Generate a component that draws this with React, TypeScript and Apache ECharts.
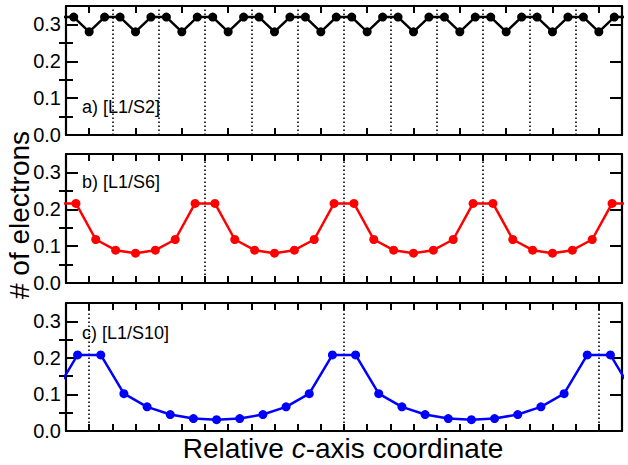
import React, { useEffect, useRef } from "react";
import * as echarts from "echarts";

// ---- data ----
const electronsA = [
  0.32, 0.28, 0.32, 0.32, 0.28, 0.32, 0.32, 0.28, 0.32, 0.32, 0.28, 0.32,
  0.32, 0.28, 0.32, 0.32, 0.28, 0.32, 0.32, 0.28, 0.32, 0.32, 0.28, 0.32,
  0.32, 0.28, 0.32, 0.32, 0.28, 0.32, 0.32, 0.28, 0.32, 0.32, 0.28, 0.32,
];
const electronsB = [
  0.216, 0.118, 0.089, 0.081, 0.089, 0.118, 0.216,
  0.216, 0.118, 0.089, 0.081, 0.089, 0.118, 0.216,
  0.216, 0.118, 0.089, 0.081, 0.089, 0.118, 0.216,
  0.216, 0.118, 0.089, 0.081, 0.089, 0.118, 0.216,
];
const electronsC = [
  0.208, 0.208, 0.102, 0.066, 0.045, 0.034, 0.031, 0.034, 0.045, 0.066, 0.102,
  0.208, 0.208, 0.102, 0.066, 0.045, 0.034, 0.031, 0.034, 0.045, 0.066, 0.102,
  0.208, 0.208,
];
// values just outside the left / right edge (periodic continuation)
const edgeA = [0.32, 0.32];
const edgeB = [0.216, 0.216];
const edgeC = [0.102, 0.102];

const dividersA = [3, 6, 9, 12, 15, 18, 21, 24, 27, 30, 33];
const dividersB = [7, 14, 21];
const dividersC = [1, 12, 23];

const panelLabels = ["a) [L1/S2]", "b) [L1/S6]", "c) [L1/S10]"];
const yMajorTicks = [0, 0.1, 0.2, 0.3];
const yMinorTicks = [0.05, 0.15, 0.25];
const yAxisTitle = "# of electrons";

const FONT = "'Liberation Sans', Arial, Helvetica, sans-serif";

export default function App() {
  const ref = useRef<HTMLDivElement>(null);

  useEffect(() => {
    document.body.style.margin = "0";
    if (!ref.current) return;
    const chart = echarts.init(ref.current, null, { renderer: "svg" });

    const panels = [
      { values: electronsA, edge: edgeA, dividers: dividersA, color: "#000000", tickStep: 3, tickOffset: 1.5, top: 6, height: 129, labelY: 107 },
      { values: electronsB, edge: edgeB, dividers: dividersB, color: "#ff0000", tickStep: 28 / 24, tickOffset: 28 / 24, top: 154, height: 129, labelY: 182 },
      { values: electronsC, edge: edgeC, dividers: dividersC, color: "#0000ff", tickStep: 1, tickOffset: 1, top: 303, height: 128, labelY: 333 },
    ];

    const grid: any[] = [];
    const xAxis: any[] = [];
    const yAxis: any[] = [];
    const series: any[] = [];
    const graphic: any[] = [];

    const frameLine = { show: true, onZero: false, lineStyle: { color: "#000", width: 2.2 } };

    panels.forEach((p, g) => {
      const n = p.values.length;
      grid.push({ left: 66, right: 6, top: p.top, height: p.height });

      const xt: number[] = [];
      for (let t = p.tickOffset; t < n - 1e-6; t += p.tickStep) xt.push(t);

      ["bottom", "top"].forEach((pos) => {
        xAxis.push({
          type: "value",
          gridIndex: g,
          position: pos,
          min: 0,
          max: n,
          axisLine: frameLine,
          axisTick: { show: true, inside: true, length: 7, customValues: xt, lineStyle: { color: "#000", width: 2 } },
          axisLabel: { show: false },
          splitLine: { show: false },
        });
      });

      ["left", "right"].forEach((pos) => {
        yAxis.push({
          type: "value",
          gridIndex: g,
          position: pos,
          min: 0,
          max: 0.35,
          axisLine: frameLine,
          axisTick: { show: true, inside: true, length: 12, customValues: yMajorTicks, lineStyle: { color: "#000", width: 2 } },
          axisLabel: {
            show: pos === "left",
            customValues: yMajorTicks,
            formatter: (v: number) => v.toFixed(1),
            color: "#000",
            fontSize: 20,
            fontFamily: FONT,
            margin: 5,
          },
          splitLine: { show: false },
        });
        yAxis.push({
          type: "value",
          gridIndex: g,
          position: pos,
          min: 0,
          max: 0.35,
          axisLine: { show: false },
          axisTick: { show: true, inside: true, length: 7, customValues: yMinorTicks, lineStyle: { color: "#000", width: 2 } },
          axisLabel: { show: false },
          splitLine: { show: false },
        });
      });

      const data: any[] = [];
      data.push({ value: [-0.5, p.edge[0]], symbol: "none" });
      p.values.forEach((v, i) => data.push([i + 0.5, v]));
      data.push({ value: [n + 0.5, p.edge[1]], symbol: "none" });

      series.push({
        type: "line",
        xAxisIndex: 2 * g,
        yAxisIndex: 4 * g,
        data,
        clip: true,
        symbol: "circle",
        symbolSize: 9,
        showAllSymbol: true,
        itemStyle: { color: p.color },
        lineStyle: { color: p.color, width: 2.5 },
        markLine: {
          silent: true,
          symbol: "none",
          label: { show: false },
          lineStyle: { color: "#000", type: [1.5, 2.5], width: 1.6 },
          data: p.dividers.map((x) => ({ xAxis: x })),
          z: 1,
        },
      });

      graphic.push({
        type: "text",
        x: 82,
        y: p.labelY,
        style: { text: panelLabels[g], font: `18px ${FONT}`, fill: "#000", verticalAlign: "middle", align: "left" },
      });
    });

    graphic.push({
      type: "text",
      x: 19,
      y: 215,
      rotation: Math.PI / 2,
      style: { text: yAxisTitle, font: `28px ${FONT}`, fill: "#000", align: "center", verticalAlign: "middle" },
    });
    graphic.push({
      type: "text",
      x: 343,
      y: 448,
      style: {
        text: "{n|Relative }{i|c}{n|-axis coordinate}",
        align: "center",
        verticalAlign: "middle",
        rich: {
          n: { fontSize: 28, fontFamily: FONT, color: "#000" },
          i: { fontSize: 28, fontFamily: FONT, fontStyle: "italic", color: "#000" },
        },
      },
    });

    chart.setOption({ animation: false, grid, xAxis, yAxis, series, graphic });
    return () => chart.dispose();
  }, []);

  return <div ref={ref} style={{ width: 628, height: 465 }} />;
}
